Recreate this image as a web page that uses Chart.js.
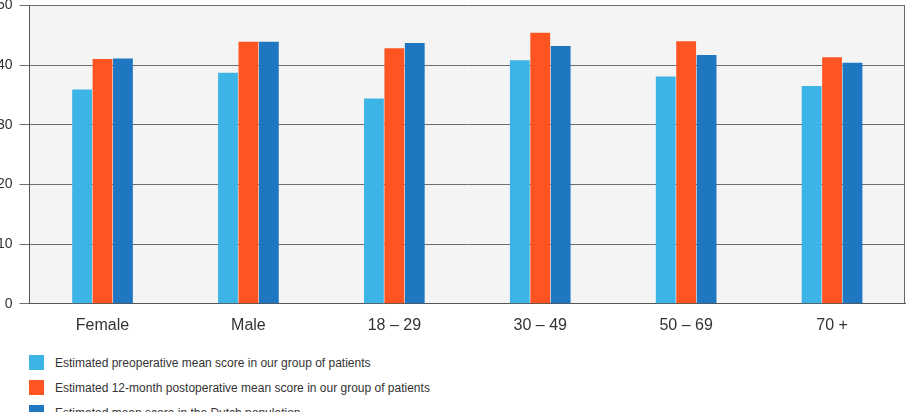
<!DOCTYPE html>
<html>
<head>
<meta charset="utf-8">
<script src="https://cdn.jsdelivr.net/npm/chart.js@4"></script>
<style>
  html, body { margin: 0; padding: 0; background: #fff; overflow: hidden; }
  body { width: 909px; height: 412px; position: relative; font-family: Arial, "Liberation Sans", sans-serif; }
  #chart-wrap { position: absolute; left: -10px; top: -10px; width: 919px; height: 350px; }
  #legend { position: absolute; left: 29px; top: 355px; }
  .legend-item { display: flex; align-items: center; height: 15px; margin-bottom: 10px; font-size: 12px; color: #333; }
  .legend-box { width: 15px; height: 15px; margin-right: 11px; flex: none; }
</style>
</head>
<body>
<div id="chart-wrap"><canvas id="scoreChart"></canvas></div>
<div id="legend"></div>
<script>
// categories and series
const categories = ['Female', 'Male', '18 – 29', '30 – 49', '50 – 69', '70 +'];
const preopScores = [35.9, 38.7, 34.4, 40.8, 38.1, 36.5];
const postopScores = [41.0, 43.9, 42.8, 45.4, 44.0, 41.3];
const dutchScores = [41.1, 43.9, 43.7, 43.2, 41.7, 40.4];
const yTicks = [0, 10, 20, 30, 40, 50];

const seriesLabels = [
  'Estimated preoperative mean score in our group of patients',
  'Estimated 12-month postoperative mean score in our group of patients',
  'Estimated mean score in the Dutch population'
];
const seriesColors = ['#3cb4e5', '#fe5422', '#1f77c1'];

// fill the plot area grey and frame it
const plotFrame = {
  id: 'plotFrame',
  beforeDraw(chart) {
    const { ctx, chartArea: a } = chart;
    ctx.save();
    ctx.fillStyle = '#f4f4f4';
    ctx.fillRect(a.left, a.top, a.right - a.left, a.bottom - a.top);
    ctx.restore();
  },
  afterDraw(chart) {
    const { ctx, chartArea: a } = chart;
    ctx.save();
    ctx.strokeStyle = '#666';
    ctx.lineWidth = 1;
    ctx.beginPath();
    ctx.moveTo(Math.round(a.right) - 0.5, a.top);
    ctx.lineTo(Math.round(a.right) - 0.5, a.bottom);
    ctx.stroke();
    ctx.restore();
  }
};

const datasets = [preopScores, postopScores, dutchScores].map((values, i) => ({
  label: seriesLabels[i],
  data: values,
  backgroundColor: seriesColors[i],
  borderWidth: 0,
  categoryPercentage: 0.42,
  barPercentage: 0.97
}));

new Chart(document.getElementById('scoreChart'), {
  type: 'bar',
  data: { labels: categories, datasets },
  options: {
    responsive: true,
    maintainAspectRatio: false,
    animation: false,
    layout: { padding: { top: 0, right: 4, bottom: 1, left: 0 } },
    plugins: { legend: { display: false }, tooltip: { enabled: false } },
    scales: {
      x: {
        grid: { display: false },
        border: { display: true, color: '#555', width: 1 },
        ticks: { color: '#333', padding: 4, font: { family: 'Arial, "Liberation Sans"', size: 16 } }
      },
      y: {
        min: 0,
        max: 50,
        afterBuildTicks: scale => { scale.ticks = yTicks.map(v => ({ value: v })); },
        grid: { color: '#6e6e6e', lineWidth: 1, tickLength: 10 },
        border: { display: true, color: '#555', width: 1 },
        ticks: { color: '#333', padding: 7, font: { family: 'Arial, "Liberation Sans"', size: 14 } }
      }
    }
  },
  plugins: [plotFrame]
});

// html legend under the chart
const legend = document.getElementById('legend');
seriesLabels.forEach((label, i) => {
  const item = document.createElement('div');
  item.className = 'legend-item';
  const box = document.createElement('span');
  box.className = 'legend-box';
  box.style.background = seriesColors[i];
  const text = document.createElement('span');
  text.textContent = label;
  item.appendChild(box);
  item.appendChild(text);
  legend.appendChild(item);
});
</script>
</body>
</html>
